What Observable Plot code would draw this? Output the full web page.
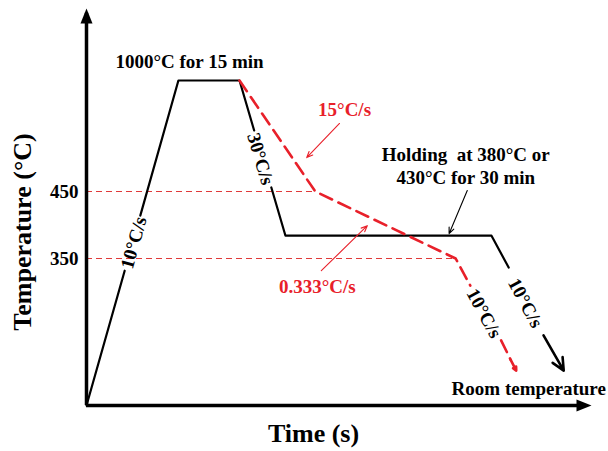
<!DOCTYPE html>
<html>
<head>
<meta charset="utf-8">
<script src="https://cdn.jsdelivr.net/npm/d3@7"></script>
<script src="https://cdn.jsdelivr.net/npm/@observablehq/plot@0.6"></script>
<style>
  html, body { margin: 0; padding: 0; background: #fff; }
  #chart svg { display: block; }
</style>
</head>
<body>
<div id="chart"></div>
<script>
// ---- schematic scales (time in arbitrary units, temperature piecewise) ----
const timeDomain = [0, 100];
const tempDomain = [25, 350, 450, 1000, 1150];
const yTicks = [450, 350];

// ---- black route (holding at 380/430 °C), broken where rate labels sit ----
const blackSeg  = [0, 0, 1, 1, 1, 1, 2, 2, 2, 2];
const blackTime = [0, 7.56, 10.65, 18.2, 30.3, 33.2, 36.6, 39.4, 80.2, 83.6];
const blackTemp = [25, 323, 414, 1000, 1000, 752, 470, 384, 384, 330];

// ---- red dashed route (continuous cooling) ----
const redSeg  = [0, 0, 0, 0, 1, 1];
const redTime = [30.3, 45.3, 73.1, 76.0, 82.1, 84.0];
const redTemp = [1000, 450, 350, 290, 169, 126];

// ---- reference levels ----
const refTemp = [450, 350];
const refEnd  = [45.3, 73.1];

// ---- cooling arrows to room temperature ----
const coolColor = ["black", "red"];
const coolT1 = [90.5, 84.0], coolY1 = [180, 126];
const coolT2 = [94.5, 85.1], coolY2 = [102, 102];

// ---- thin annotation arrows ----
const noteColor = ["red", "red", "black"];
const noteT1 = [50.1, 46.5, 75.4], noteY1 = [787, 323, 455];
const noteT2 = [43.6, 55.6, 71.8], noteY2 = [618, 399, 387];

// ---- text annotations ----
const labelText = ["1000°C for 15 min", "30°C/s", "10°C/s", "10°C/s", "10°C/s",
                   "Holding\u00a0 at 380°C or\n430°C for 30 min", "15°C/s", "0.333°C/s"];
const labelTime = [20.4, 34.65, 9.13, 87.1, 78.9, 75.1, 51.1, 45.7];
const labelTemp = [1042, 613, 374, 253, 230, 581, 861, 290];
const labelRot  = [0, 73.5, -74.2, 62, 61.5, 0, 0, 0];
const labelColor = ["black", "black", "black", "black", "black", "black", "red", "red"];
const roomText = "Room temperature";
const roomTime = 72.3, roomTemp = 62.6;

const RED = "#e8202a";

const black = blackTime.map((t, i) => ({t, T: blackTemp[i], s: blackSeg[i]}));
const red = redTime.map((t, i) => ({t, T: redTemp[i], s: redSeg[i]}));
const refs = refTemp.map((T, i) => ({T, end: refEnd[i]}));
const cools = coolColor.map((c, i) => ({c, t1: coolT1[i], y1: coolY1[i], t2: coolT2[i], y2: coolY2[i]}));
const notes = noteColor.map((c, i) => ({c, t1: noteT1[i], y1: noteY1[i], t2: noteT2[i], y2: noteY2[i]}));
const labels = labelText.map((text, i) => ({text, t: labelTime[i], T: labelTemp[i], r: labelRot[i], c: labelColor[i]}));

const upHead = {draw(ctx) { ctx.moveTo(0, 0); ctx.lineTo(-6, 15); ctx.lineTo(6, 15); ctx.closePath(); }};
const rightHead = {draw(ctx) { ctx.moveTo(0, 0); ctx.lineTo(-15, -6); ctx.lineTo(-15, 6); ctx.closePath(); }};

const chart = Plot.plot({
  width: 608,
  height: 451,
  marginLeft: 86,
  marginRight: 17,
  marginTop: 8,
  marginBottom: 46,
  style: {fontFamily: "'Liberation Serif', 'Times New Roman', serif", fontSize: "19px", fontWeight: "bold", color: "black", background: "white"},
  x: {domain: timeDomain, range: [86, 591], axis: null},
  y: {type: "linear", domain: tempDomain, range: [405, 258, 191, 80, 8],
      ticks: yTicks, tickSize: 0, tickPadding: 8, label: null},
  marks: [
    // reference dashed levels
    Plot.ruleY(refs, {y: "T", x1: 0, x2: "end", stroke: "#e03a3a", strokeWidth: 1.2, strokeDasharray: "6,4"}),
    // axes
    Plot.ruleX([0], {y1: 25, y2: 1140, stroke: "black", strokeWidth: 3.5}),
    Plot.ruleY([25], {x1: 0, x2: 98, stroke: "black", strokeWidth: 3.5}),
    Plot.dot([0], {x: 0, y: 1150, r: 1, symbol: upHead, fill: "black", stroke: "none"}),
    Plot.dot([0], {x: 100, y: 25, r: 1, symbol: rightHead, fill: "black", stroke: "none"}),
    // routes
    Plot.line(black, {x: "t", y: "T", z: "s", stroke: "black", strokeWidth: 2.2, curve: "linear"}),
    Plot.line(red, {x: "t", y: "T", z: "s", stroke: RED, strokeWidth: 2.6, strokeDasharray: "13,7", curve: "linear"}),
    // cooling arrows
    Plot.arrow(cools, {x1: "t1", y1: "y1", x2: "t2", y2: "y2", stroke: d => d.c === "red" ? RED : "black",
      strokeWidth: 2.6, headLength: 10, headAngle: 50}),
    // thin annotation arrows
    Plot.arrow(notes, {x1: "t1", y1: "y1", x2: "t2", y2: "y2", stroke: d => d.c === "red" ? RED : "black",
      strokeWidth: 1.1, headLength: 9, headAngle: 45}),
    // labels
    Plot.text(labels, {x: "t", y: "T", text: "text", rotate: "r", fill: d => d.c === "red" ? RED : "black",
      fontSize: 19, fontWeight: "bold", lineHeight: 1.2, textAnchor: "middle", lineAnchor: "middle"}),
    Plot.text([roomText], {x: roomTime, y: roomTemp, text: d => d, fontSize: 19, fontWeight: "bold",
      textAnchor: "start", lineAnchor: "middle", fill: "black"}),
    // axis titles
    Plot.text(["Temperature (°C)"], {frameAnchor: "left", dx: -64, dy: 25, rotate: -90, text: d => d,
      fontSize: 26, fontWeight: "bold", textAnchor: "middle", lineAnchor: "middle", fill: "black"}),
    Plot.text(["Time (s)"], {frameAnchor: "bottom", dx: -25.5, dy: 28, text: d => d,
      fontSize: 26, fontWeight: "bold", textAnchor: "middle", lineAnchor: "middle", fill: "black"})
  ]
});
document.getElementById("chart").appendChild(chart);
</script>
</body>
</html>
